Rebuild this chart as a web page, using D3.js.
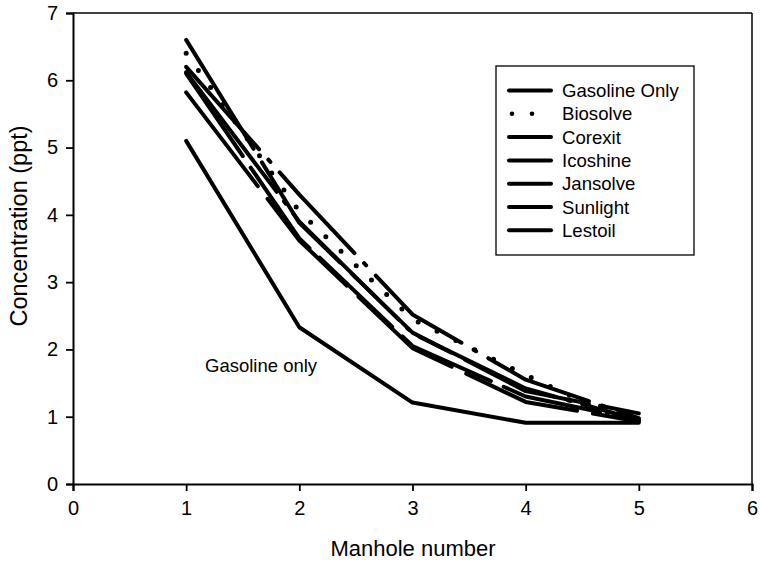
<!DOCTYPE html>
<html><head><meta charset="utf-8">
<script src="https://cdn.jsdelivr.net/npm/d3@7"></script>
<style>body{margin:0;background:#fff}svg{display:block}text{font-family:"Liberation Sans",Arial,sans-serif;fill:#000}</style>
</head><body><svg id="c" width="760" height="563"></svg>
<script>
const manholes = [1, 2, 3, 4, 5];
const gasolineOnly = [5.1, 2.33, 1.21, 0.91, 0.91];
const biosolve = [6.4, 4.05, 2.45, 1.62, 0.84];
const corexit = [6.6, 3.88, 2.25, 1.38, 1.05];
const icoshine = [6.2, 4.3, 2.52, 1.55, 0.98];
const jansolve = [6.1, 3.65, 2.05, 1.3, 0.95];
const sunlight = [6.12, 3.9, 2.24, 1.42, 0.95];
const lestoil = [5.82, 3.62, 2.02, 1.22, 0.93];
const seriesNames = ["Gasoline Only","Biosolve","Corexit","Icoshine","Jansolve","Sunlight","Lestoil"];
const seriesValues = [gasolineOnly, biosolve, corexit, icoshine, jansolve, sunlight, lestoil];
const xTicks = [0,1,2,3,4,5,6];
const yTicks = [0,1,2,3,4,5,6,7];
const dashes = [null, "0,21", "128,16", "110,14,3,14", "100,14", "150,12,3,12", "118,16"];

const svg = d3.select("#c");
const x = d3.scaleLinear().domain([0,6]).range([73,752]);
const y = d3.scaleLinear().domain([0,7]).range([484,13]);

svg.append("line").attr("x1",73).attr("x2",752).attr("y1",13).attr("y2",13).attr("stroke","#000").attr("stroke-width",1.5);
svg.append("line").attr("x1",752).attr("x2",752).attr("y1",13).attr("y2",484).attr("stroke","#000").attr("stroke-width",1.5);

const xAxis = svg.append("g").attr("transform","translate(0,484)")
  .call(d3.axisBottom(x).tickValues(xTicks).tickFormat(d3.format("d")).tickSize(7).tickPadding(10));
const yAxis = svg.append("g").attr("transform","translate(73,0)")
  .call(d3.axisLeft(y).tickValues(yTicks).tickFormat(d3.format("d")).tickSize(7).tickPadding(8));
[xAxis,yAxis].forEach(a=>{
  a.selectAll("path").attr("stroke","#000").attr("stroke-width",2);
  a.selectAll("line").attr("stroke","#000").attr("stroke-width",1.8);
  a.selectAll("text").style("font-size","20px").style("font-family","'Liberation Sans',Arial,sans-serif");
});

const line = d3.line().x((d,i)=>x(manholes[i])).y(d=>y(d));
seriesValues.forEach((vals,k)=>{
  const p = svg.append("path").datum(vals).attr("d",line).attr("fill","none")
    .attr("stroke","#000").attr("stroke-linecap","round").attr("stroke-linejoin","round");
  if(k===1){ p.attr("stroke-width",5).attr("stroke-dasharray",dashes[k]); }
  else { p.attr("stroke-width",4); if(dashes[k]) p.attr("stroke-dasharray",dashes[k]); }
});

svg.append("text").attr("x",205).attr("y",372).style("font-size","18.5px").text("Gasoline only");

const lg = svg.append("g");
lg.append("rect").attr("x",496).attr("y",66).attr("width",198).attr("height",189)
  .attr("fill","#fff").attr("stroke","#000").attr("stroke-width",1.3);
seriesNames.forEach((n,i)=>{
  const yy = 90.5 + i*23.3;
  if(i===1){
    [512,532].forEach(cx=>lg.append("circle").attr("cx",cx).attr("cy",yy).attr("r",2.3).attr("fill","#000"));
  } else {
    lg.append("line").attr("x1",509).attr("x2",551).attr("y1",yy).attr("y2",yy)
      .attr("stroke","#000").attr("stroke-width",4).attr("stroke-linecap","round");
  }
  lg.append("text").attr("x",562).attr("y",yy).attr("dy","0.35em").style("font-size","18.6px").text(n);
});

svg.append("text").attr("x",413).attr("y",556).attr("text-anchor","middle").style("font-size","22px").text("Manhole number");
svg.append("text").attr("transform","translate(27,226) rotate(-90)").attr("text-anchor","middle").style("font-size","23.5px").text("Concentration (ppt)");
</script></body></html>
